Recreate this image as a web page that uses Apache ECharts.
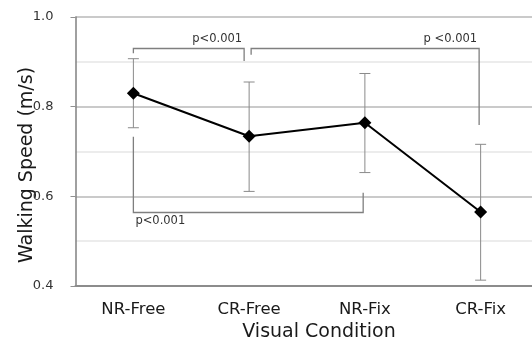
<!DOCTYPE html>
<html>
<head>
<meta charset="utf-8">
<script src="https://cdn.jsdelivr.net/npm/echarts@6/dist/echarts.min.js"></script>
<style>
html,body{margin:0;padding:0;background:#fff;}
#chart{width:532px;height:340px;}
</style>
</head>
<body>
<div id="chart"></div>
<script>
// ---- data ----
const categories = ['NR-Free', 'CR-Free', 'NR-Fix', 'CR-Fix'];
const means = [0.830, 0.734, 0.764, 0.565];
const errUpper = [0.907, 0.855, 0.874, 0.716];
const errLower = [0.753, 0.611, 0.653, 0.413];
const yMin = 0.4, yMax = 1.0, yInterval = 0.2;
const yTitle = 'Walking Speed (m/s)';
const xTitle = 'Visual Condition';
// significance brackets
const bracketFrom = [0, 1, 0];
const bracketTo = [1, 3, 2];
const bracketLevel = [0.930, 0.930, 0.565];
const bracketFromEnd = [0.919, 0.916, 0.733];
const bracketToEnd = [0.902, 0.759, 0.608];
const bracketLabels = ['p<0.001', 'p <0.001', 'p<0.001'];

// ---- styles (pixel nudges / label placement) ----
const bracketStyle = [
  {fromInset: 0, toInset: -5, label: 'aboveRight'},
  {fromInset: 2, toInset: -1.5, label: 'aboveRight'},
  {fromInset: 0, toInset: -1.7, label: 'belowLeft'}
];
const FONT = '"DejaVu Sans", Verdana, sans-serif';

const chart = echarts.init(document.getElementById('chart'), null, {renderer: 'canvas'});

const bracketData = bracketFrom.map((f, i) => [f, bracketTo[i], bracketLevel[i], bracketFromEnd[i], bracketToEnd[i]]);
const errData = categories.map((c, i) => [i, errLower[i], errUpper[i]]);

const option = {
  animation: false,
  backgroundColor: '#ffffff',
  grid: {left: 75.5, top: 17, width: 463, height: 269, containLabel: false, outerBoundsMode: 'none'},
  xAxis: {
    type: 'category',
    data: categories,
    boundaryGap: true,
    axisLine: {show: true, lineStyle: {color: '#8c8c8c', width: 2}},
    axisTick: {show: false},
    axisLabel: {color: '#1a1a1a', fontSize: 16.5, fontFamily: FONT, margin: 15},
    splitLine: {show: false},
    name: xTitle,
    nameLocation: 'middle',
    nameGap: 37,
    nameMoveOverlap: false,
    nameTextStyle: {color: '#1a1a1a', fontSize: 19, fontFamily: FONT, padding: [0, 0, 0, 24]}
  },
  yAxis: {
    type: 'value',
    min: yMin, max: yMax, interval: yInterval,
    axisLine: {show: true, lineStyle: {color: '#808080', width: 1.5}},
    axisTick: {show: true, length: 5, inside: false, lineStyle: {color: '#909090'}},
    axisLabel: {color: '#333333', fontSize: 13, fontFamily: FONT, margin: 22,
      formatter: v => v.toFixed(1)},
    splitLine: {show: true, lineStyle: {color: '#b8b8b8', width: 1.6}},
    minorTick: {show: false, splitNumber: 2},
    minorSplitLine: {show: true, lineStyle: {color: '#e6e6e6', width: 1.6}},
    name: yTitle,
    nameLocation: 'middle',
    nameGap: 39,
    nameRotate: 90,
    nameMoveOverlap: false,
    nameTextStyle: {color: '#1a1a1a', fontSize: 19, fontFamily: FONT, padding: [0, 27, 0, 0]}
  },
  series: [
    {
      type: 'custom',
      name: 'errors',
      data: errData,
      encode: {x: 0, y: [1, 2]},
      z: 2,
      renderItem: function (params, api) {
        const lo = api.coord([api.value(0), api.value(1)]);
        const hi = api.coord([api.value(0), api.value(2)]);
        const cap = 5.5;
        const st = {stroke: '#8a8a8a', lineWidth: 1, fill: null};
        return {
          type: 'group',
          children: [
            {type: 'line', shape: {x1: lo[0], y1: lo[1], x2: hi[0], y2: hi[1]}, style: st},
            {type: 'line', shape: {x1: lo[0] - cap, y1: lo[1], x2: lo[0] + cap, y2: lo[1]}, style: st},
            {type: 'line', shape: {x1: hi[0] - cap, y1: hi[1], x2: hi[0] + cap, y2: hi[1]}, style: st}
          ]
        };
      }
    },
    {
      type: 'custom',
      name: 'brackets',
      data: bracketData,
      encode: {x: [0, 1], y: [2, 3, 4]},
      z: 3,
      renderItem: function (params, api) {
        const i = params.dataIndex;
        const s = bracketStyle[i];
        const pA = api.coord([api.value(0), api.value(2)]);
        const pB = api.coord([api.value(1), api.value(2)]);
        const pAe = api.coord([api.value(0), api.value(3)]);
        const pBe = api.coord([api.value(1), api.value(4)]);
        const xA = pA[0] + s.fromInset, xB = pB[0] + s.toInset;
        const yL = Math.round(pA[1]) + 0.5;
        const children = [{
          type: 'polyline',
          shape: {points: [[xA, pAe[1]], [xA, yL], [xB, yL], [xB, pBe[1]]]},
          style: {stroke: '#7f7f7f', lineWidth: 1.3, fill: null}
        }];
        let tx, ty, align, valign;
        if (s.label === 'aboveRight') {
          tx = xB - 2; ty = yL - 3; align = 'right'; valign = 'bottom';
        } else {
          tx = xA + 2; ty = yL + 3; align = 'left'; valign = 'top';
        }
        children.push({
          type: 'text',
          style: {text: bracketLabels[i], x: tx, y: ty, align: align, verticalAlign: valign,
            font: '11.5px ' + FONT, fill: '#333333'}
        });
        return {type: 'group', children: children};
      }
    },
    {
      type: 'line',
      name: 'mean',
      data: means,
      z: 5,
      symbol: 'diamond',
      symbolSize: 13,
      showAllSymbol: true,
      lineStyle: {color: '#000000', width: 2},
      itemStyle: {color: '#000000'}
    }
  ]
};
chart.setOption(option);
</script>
</body>
</html>
